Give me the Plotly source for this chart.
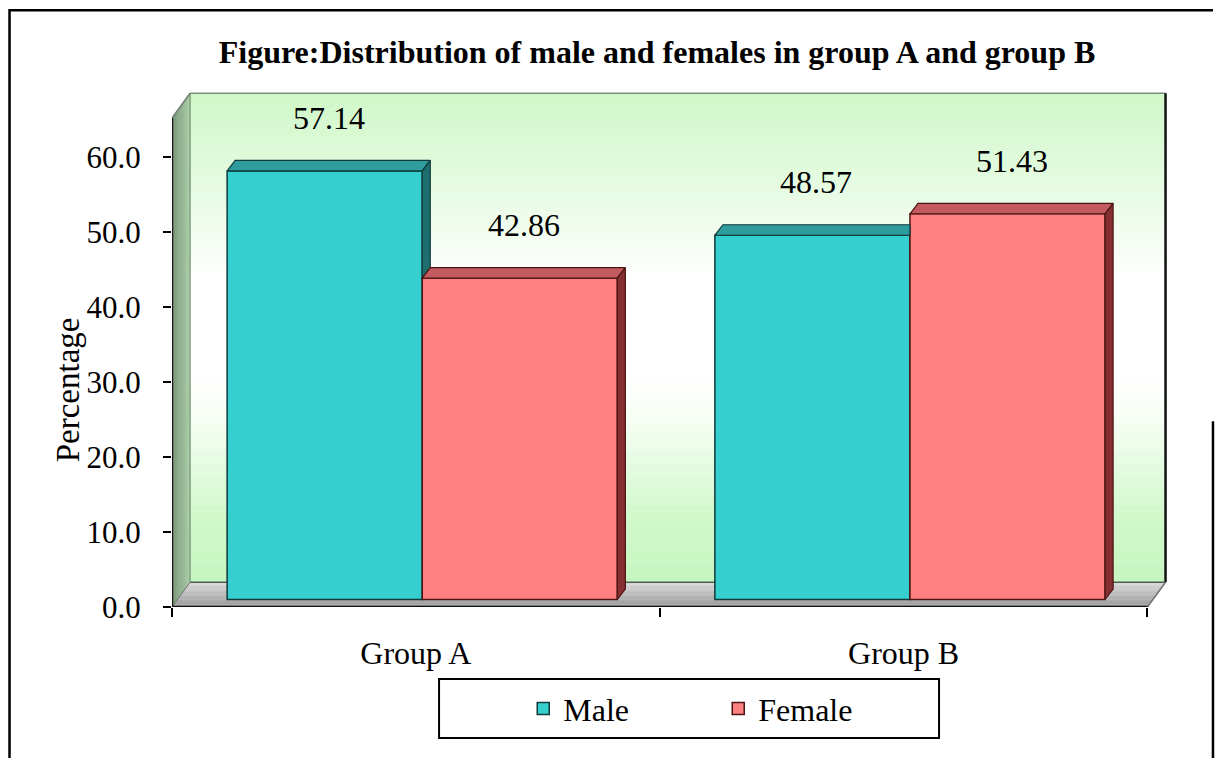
import plotly.graph_objects as go

# ---- data -------------------------------------------------------------
categories = ["Group A", "Group B"]
male = [57.14, 48.57]
female = [42.86, 51.43]
y_ticks = [0, 10, 20, 30, 40, 50, 60]
series_names = ["Male", "Female"]

# ---- pseudo-3D geometry (axis units) ----------------------------------
X0, X1 = -0.5, 1.5            # category span of the floor front edge
FLOOR_DX, FLOOR_DY = 0.037, 3.3  # depth of walls / floor
WALL_H = 65.2                 # height of the side wall front edge
BAR_W = 0.4
BAR_SHIFT = 0.013             # bars stand mid-depth on the floor
BAR_LIFT = 1.0
BAR_DX, BAR_DY = 0.0165, 1.4  # depth of each bar

FONT = "Liberation Serif, Times New Roman, serif"

styles = {
    "Male": dict(front="#36cfcf", top="#2e9c9c", side="#1d6f6f", edge="#113a3a"),
    "Female": dict(front="#ff8080", top="#c25a60", side="#862f30", edge="#4d1414"),
}


def mix(c1, c2, t):
    a = [int(c1[i:i + 2], 16) for i in (1, 3, 5)]
    b = [int(c2[i:i + 2], 16) for i in (1, 3, 5)]
    return "#%02x%02x%02x" % tuple(round(a[k] + (b[k] - a[k]) * t) for k in range(3))


def ramp(stops, t):
    for (p0, c0), (p1, c1) in zip(stops, stops[1:]):
        if t <= p1:
            return mix(c0, c1, (t - p0) / (p1 - p0) if p1 > p0 else 0)
    return stops[-1][1]


shapes = []

# back wall: vertical green-white-green gradient built from thin bands
wall_stops = [(0.0, "#c6f6c0"), (0.14, "#d2f8cc"), (0.34, "#f7fff6"), (0.42, "#ffffff"),
              (0.62, "#ffffff"), (0.82, "#e4fbe0"), (1.0, "#cff7c8")]
n_bands = 90
wb, wt = FLOOR_DY, WALL_H + FLOOR_DY
for k in range(n_bands):
    ya = wb + (wt - wb) * k / n_bands
    yb = wb + (wt - wb) * (k + 1) / n_bands
    shapes.append(dict(type="rect", xref="x", yref="y", layer="below",
                       x0=X0 + FLOOR_DX, x1=X1 + FLOOR_DX, y0=ya, y1=yb + 0.05,
                       fillcolor=ramp(wall_stops, (k + 0.5) / n_bands), line_width=0))

# left side wall: horizontal grey-green gradient
n_side = 10
for k in range(n_side):
    xa = X0 + FLOOR_DX * k / n_side
    xb = X0 + FLOOR_DX * (k + 1) / n_side
    ya0 = FLOOR_DY * k / n_side
    yb0 = FLOOR_DY * (k + 1) / n_side
    path = (f"M{xa},{ya0} L{xb + 0.001},{yb0} L{xb + 0.001},{WALL_H + yb0} "
            f"L{xa},{WALL_H + ya0} Z")
    shapes.append(dict(type="path", xref="x", yref="y", layer="below", path=path,
                       fillcolor=mix("#7b947b", "#a9cfa6", (k + 0.5) / n_side), line_width=0))

# floor: grey gradient from the front edge to the back
n_floor = 10
for k in range(n_floor):
    ta, tb = k / n_floor, (k + 1) / n_floor
    path = (f"M{X0 + FLOOR_DX * ta},{FLOOR_DY * ta} L{X1 + FLOOR_DX * ta},{FLOOR_DY * ta} "
            f"L{X1 + FLOOR_DX * tb},{FLOOR_DY * tb + 0.03} L{X0 + FLOOR_DX * tb},{FLOOR_DY * tb + 0.03} Z")
    shapes.append(dict(type="path", xref="x", yref="y", layer="below", path=path,
                       fillcolor=mix("#9a9a9a", "#dadada", (k + 0.5) / n_floor), line_width=0))

# wall / floor edges
edge_lines = [
    (X0 + FLOOR_DX, wt, X1 + FLOOR_DX, wt, "#7d8c7d", 1.5),
    (X1 + FLOOR_DX, wb, X1 + FLOOR_DX, wt, "#111111", 2.5),
    (X0 + FLOOR_DX, wb, X1 + FLOOR_DX, wb, "#4f5f4f", 1.5),
    (X0 + FLOOR_DX, wb, X0 + FLOOR_DX, wt, "#6f8a6f", 1),
    (X0, WALL_H, X0 + FLOOR_DX, wt, "#6f7f6f", 1.5),
    (X1, 0, X1 + FLOOR_DX, wb, "#707070", 1.5),
    (X0, 0, X0 + FLOOR_DX, wb, "#707070", 1),
]
for xa, ya, xb, yb, col, w in edge_lines:
    shapes.append(dict(type="line", xref="x", yref="y", layer="below",
                       x0=xa, y0=ya, x1=xb, y1=yb, line=dict(color=col, width=w)))

# front axis lines
shapes.append(dict(type="line", xref="x", yref="y", layer="above", x0=X0, y0=0, x1=X0, y1=WALL_H,
                   line=dict(color="#1a1a1a", width=2.5)))
shapes.append(dict(type="line", xref="x", yref="y", layer="above", x0=X0, y0=0, x1=X1, y1=0,
                   line=dict(color="#111111", width=2.5)))

fig = go.Figure()

# front faces of the columns
values = {"Male": male, "Female": female}
offsets = {"Male": -BAR_W + BAR_SHIFT, "Female": BAR_SHIFT}
for name in series_names:
    st = styles[name]
    fig.add_trace(go.Bar(
        name=name, x=list(range(len(categories))), y=values[name],
        base=BAR_LIFT, width=BAR_W, offset=offsets[name],
        marker=dict(color=st["front"], line=dict(color=st["edge"], width=1.5)),
        hoverinfo="skip",
    ))

# top and side faces, painted left to right
annotations = []
for i, cat in enumerate(categories):
    for j, name in enumerate(series_names):
        st = styles[name]
        v = values[name][i]
        x0 = i + offsets[name]
        x1 = x0 + BAR_W
        b = BAR_LIFT
        t = b + v
        nb = None
        if j + 1 < len(series_names):
            nb = BAR_LIFT + values[series_names[j + 1]][i]
        # top face
        if nb is not None and nb > t:
            tx = [x0, x1, x1, x0 + BAR_DX, x0]
            ty = [t, t, t + BAR_DY, t + BAR_DY, t]
        else:
            tx = [x0, x1, x1 + BAR_DX, x0 + BAR_DX, x0]
            ty = [t, t, t + BAR_DY, t + BAR_DY, t]
        fig.add_trace(go.Scatter(x=tx, y=ty, fill="toself", fillcolor=st["top"], mode="lines",
                                 line=dict(color=st["edge"], width=1.2), showlegend=False,
                                 hoverinfo="skip"))
        # side face
        lo = b if nb is None else nb
        if lo < t:
            sx = [x1, x1, x1 + BAR_DX, x1 + BAR_DX, x1]
            sy = [lo, t, t + BAR_DY, lo + BAR_DY, lo]
            fig.add_trace(go.Scatter(x=sx, y=sy, fill="toself", fillcolor=st["side"], mode="lines",
                                     line=dict(color=st["edge"], width=1.2), showlegend=False,
                                     hoverinfo="skip"))
        annotations.append(dict(x=(x0 + x1) / 2 + BAR_DX / 2, y=t, xref="x", yref="y",
                                text=f"{v:.2f}", showarrow=False, yshift=53, yanchor="middle",
                                font=dict(family=FONT, size=32, color="black")))

# y-axis title
annotations.append(dict(x=-0.1045, y=0.42, xref="paper", yref="paper", text="Percentage",
                        textangle=-90, showarrow=False, xanchor="center", yanchor="middle",
                        font=dict(family=FONT, size=33, color="black")))

# legend box and page frame (left, top, lower right edge)
shapes.append(dict(type="rect", xref="paper", yref="paper", x0=0.2684, x1=0.7709,
                   y0=-0.254, y1=-0.1395, line=dict(color="black", width=2), fillcolor="rgba(0,0,0,0)"))
shapes.append(dict(type="path", xref="paper", yref="paper",
                   path="M-0.1633,-0.4 L-0.1633,1.1565 L1.0462,1.1565",
                   line=dict(color="black", width=2.5)))
shapes.append(dict(type="line", xref="paper", yref="paper", x0=1.0462, x1=1.0462,
                   y0=0.36, y1=-0.4, line=dict(color="black", width=2.5)))

fig.update_layout(
    width=1217, height=758,
    margin=dict(l=172, r=50, t=91, b=151),
    paper_bgcolor="white", plot_bgcolor="white",
    barmode="overlay",
    shapes=shapes, annotations=annotations,
    title=dict(text="<b>Figure:Distribution of male and females in group A and group B</b>",
               x=657 / 1217, xanchor="center", y=1 - 52 / 758, yanchor="middle",
               xref="container", yref="container",
               font=dict(family=FONT, size=32, color="black")),
    xaxis=dict(range=[X0, X1 + 0.04], tickvals=list(range(len(categories))), ticktext=categories,
               ticks="", showline=False, showgrid=False, zeroline=False,
               minor=dict(tickvals=[-0.5, 0.5, 1.5], ticks="outside", ticklen=9, tickwidth=2,
                          tickcolor="black"),
               tickfont=dict(family=FONT, size=32, color="black"), ticklabelstandoff=24),
    yaxis=dict(range=[0, 68.8], tickvals=y_ticks, tickformat=".1f", ticks="outside", ticklen=8,
               tickwidth=2, tickcolor="black", showline=False, showgrid=False, zeroline=False,
               tickfont=dict(family=FONT, size=31, color="black"), ticklabelstandoff=16),
    legend=dict(orientation="h", x=0.353, y=-0.197, xanchor="left", yanchor="middle",
                bgcolor="rgba(0,0,0,0)", borderwidth=0, entrywidth=150,
                font=dict(family=FONT, size=32, color="black"), traceorder="normal"),
)

fig.write_html("out.html")
